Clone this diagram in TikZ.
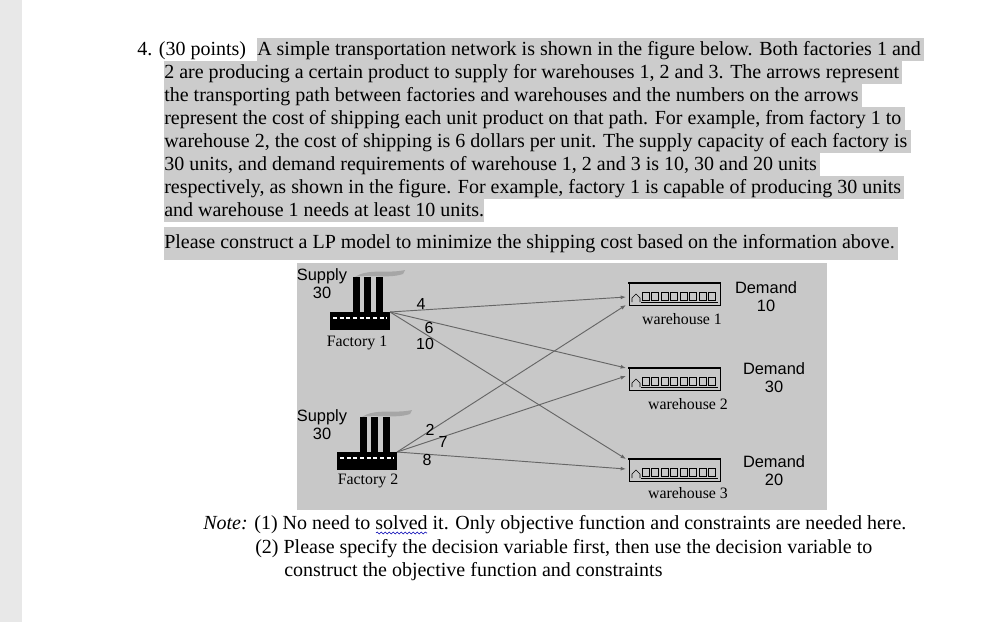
\documentclass[tikz,border=0pt]{standalone}
\usepackage{fontspec}
\setmainfont{Liberation Serif}
\setsansfont{Liberation Sans}
\usetikzlibrary{decorations.pathmorphing,arrows.meta}
\definecolor{hl}{RGB}{204,204,204}
\definecolor{fig}{RGB}{200,200,200}
\definecolor{bar}{RGB}{232,232,232}
\newcommand{\factory}[3]{% x y name
  \fill[black] (#1-23,#2) rectangle (#1+37,#2+18);
  \draw[white,densely dashed,line width=0.8pt] (#1-20,#2+6) -- (#1+34,#2+6);
  \foreach \cx in {0,11,23}{\fill[black] (#1+\cx,#2) rectangle (#1+\cx+7,#2-35);}
  \fill[gray!70] (#1+2,#2-35) .. controls (#1+15,#2-44) and (#1+35,#2-38) .. (#1+52,#2-42) -- (#1+50,#2-38) .. controls (#1+35,#2-33) and (#1+15,#2-38) .. (#1+2,#2-35);
  \coordinate (#3) at (#1+37,#2);}
\newcommand{\whouse}[2]{% x y (roof left)
  \draw[line width=1.3pt] (#1,#2) -- (#1+93,#2);
  \draw[line width=0.4pt] (#1+1,#2) -- (#1+1,#2+22) -- (#1+92,#2+22) -- (#1+92,#2);
  \draw[line width=0.4pt] (#1+4,#2+19) -- (#1+4,#2+15) -- (#1+8,#2+11) -- (#1+12,#2+15) -- (#1+12,#2+19);
  \foreach \k in {0,...,7}{\draw[line width=0.4pt] (#1+14+\k*9.5,#2+9) rectangle (#1+21+\k*9.5,#2+17);}
  \draw[line width=0.4pt] (#1+13,#2+19) -- (#1+90,#2+19);}
\tikzset{
  line/.style={anchor=base west,inner xsep=0pt,inner ysep=0pt,text height=12.9pt,text depth=4.35pt,fill=hl,font=\fontsize{15}{17}\selectfont},
  plain/.style={anchor=base west,inner sep=0pt,font=\fontsize{15}{17}\selectfont},
  sf/.style={font=\sffamily\fontsize{12.3}{13.5}\selectfont,inner sep=0pt,align=center},
  rm/.style={font=\fontsize{11.9}{13}\selectfont,inner sep=0pt},
  num/.style={font=\sffamily\fontsize{12}{13}\selectfont,inner sep=0pt},
  arr/.style={draw=black!60,line width=0.7pt,-{Latex[length=4pt,width=3pt]}}
}
\begin{document}
\begin{tikzpicture}[x=0.75pt,y=-0.75pt]
\useasboundingbox (0,0) rectangle (998,622);
\fill[white] (0,0) rectangle (998,622);
\fill[bar] (0,0) rectangle (22,622);
% text
\node[plain] (n0) at (137,55) {4. (30 points)};
\node[line] (l1) at (257,55) {A simple transportation network is shown in the figure below. Both factories 1 and\,};
\node[line] (l2) at (164,78) {2 are producing a certain product to supply for warehouses 1, 2 and 3. The arrows represent\,};
\node[line] (l3) at (164,101) {the transporting path between factories and warehouses and the numbers on the arrows\,};
\node[line] (l4) at (164,124) {represent the cost of shipping each unit product on that path. For example, from factory 1 to\,};
\node[line] (l5) at (164,147) {warehouse 2, the cost of shipping is 6 dollars per unit. The supply capacity of each factory is\,};
\node[line] (l6) at (164,170) {30 units, and demand requirements of warehouse 1, 2 and 3 is 10, 30 and 20 units\,};
\node[line] (l7) at (164,193) {respectively, as shown in the figure. For example, factory 1 is capable of producing 30 units\,};
\node[line] (l8) at (164,216) {and warehouse 1 needs at least 10 units.\hspace{9pt}};
\node[line,text height=16pt,text depth=9pt] (l9) at (164,248) {Please construct a LP model to minimize the shipping cost based on the information above.\,};
% figure
\fill[fig] (297,263) rectangle (827,510);
\factory{353}{312}{f1}
\factory{360}{452}{f2}
\node[sf] (s1) at (322,284) {Supply\\30};
\node[sf] (s2) at (322,425) {Supply\\30};
\node[rm] (fl1) at (357,343) {Factory 1};
\node[rm] (fl2) at (368,481) {Factory 2};
\whouse{628}{283}
\whouse{628}{368}
\whouse{628}{459}
\coordinate (w1a) at (626,297); \coordinate (w1b) at (626,305);
\coordinate (w2a) at (626,368); \coordinate (w2b) at (626,376);
\coordinate (w3a) at (626,459); \coordinate (w3b) at (626,469);
\node[rm] (wl1) at (682,319) {warehouse 1};
\node[rm] (wl2) at (688,404) {warehouse 2};
\node[rm] (wl3) at (688,493) {warehouse 3};
\node[sf] (d1) at (766,297) {Demand\\10};
\node[sf] (d2) at (774,378) {Demand\\30};
\node[sf] (d3) at (774,471) {Demand\\20};
\draw[arr] (f1) -- (w1a);
\draw[arr] (f1) -- (w2a);
\draw[arr] (f1) -- (w3a);
\draw[arr] (f2) -- (w1b);
\draw[arr] (f2) -- (w2b);
\draw[arr] (f2) -- (w3b);
\node[num] (c4) at (421,304) {4};
\node[num] (c6) at (429,328) {6};
\node[num] (c10) at (425,344) {10};
\node[num] (c2) at (430,430) {2};
\node[num] (c7) at (443,442) {7};
\node[num] (c8) at (427,460) {8};
% note
\node[plain] (nt1) at (203,529) {\textit{Note:} (1) No need to solved it. Only objective function and constraints are needed here.};
\node[plain] (nt2) at (255,553) {(2) Please specify the decision variable first, then use the decision variable to};
\node[plain] (nt3) at (284,576) {construct the objective function and constraints};
\draw[blue!70!black,decorate,decoration={snake,amplitude=0.8pt,segment length=3pt}] (376,533) -- (427,533);
\end{tikzpicture}
\end{document}
